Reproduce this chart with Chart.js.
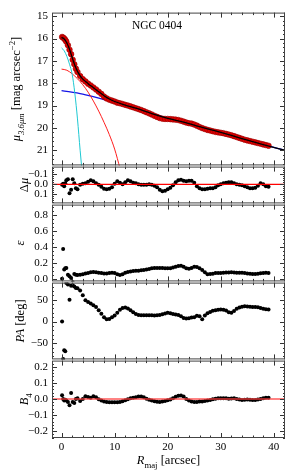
<!DOCTYPE html>
<html>
<head>
<meta charset="utf-8">
<script src="https://cdn.jsdelivr.net/npm/chart.js@4.4.0/dist/chart.umd.min.js"></script>
<style>
  html, body { margin: 0; padding: 0; background: #fff; }
  #wrap { position: relative; width: 293px; height: 471px; overflow: hidden; }
  #wrap canvas { position: absolute; left: 0; }
</style>
</head>
<body>
<div id="wrap"></div>
<script>
// isophote radii [arcsec]
const radius = [
  0.1, 0.3, 0.5, 0.7, 0.9, 1.2, 1.5, 1.8, 2.1, 2.4, 2.7, 3.0,
  3.5, 4.0, 4.5, 5.0, 5.5, 6.0, 6.5, 7.0, 7.5, 8.0, 8.5, 9.0,
  9.5, 10.0, 10.5, 11.0, 11.5, 12.0, 12.5, 13.0, 13.5, 14.0, 14.5, 15.0,
  15.5, 16.0, 16.5, 17.0, 17.5, 18.0, 18.5, 19.0, 19.5, 20.0, 20.5, 21.0,
  21.5, 22.0, 22.5, 23.0, 23.5, 24.0, 24.5, 25.0, 25.5, 26.0, 26.5, 27.0,
  27.5, 28.0, 28.5, 29.0, 29.5, 30.0, 30.5, 31.0, 31.5, 32.0, 32.5, 33.0,
  33.5, 34.0, 34.5, 35.0, 35.5, 36.0, 36.5, 37.0, 37.5, 38.0, 38.5, 39.0
];
const muData = [
  15.93, 15.96, 16.00, 16.06, 16.14, 16.30, 16.50, 16.70, 16.95, 17.15, 17.35, 17.50,
  17.68, 17.82, 17.92, 18.02, 18.10, 18.19, 18.28, 18.38, 18.48, 18.60, 18.68, 18.74,
  18.78, 18.82, 18.87, 18.90, 18.93, 18.97, 19.00, 19.04, 19.08, 19.12, 19.16, 19.20,
  19.25, 19.30, 19.35, 19.40, 19.46, 19.51, 19.56, 19.59, 19.60, 19.60, 19.61, 19.62,
  19.63, 19.65, 19.68, 19.72, 19.76, 19.79, 19.81, 19.85, 19.90, 19.96, 20.01, 20.05,
  20.09, 20.12, 20.15, 20.18, 20.20, 20.22, 20.24, 20.27, 20.30, 20.33, 20.37, 20.41,
  20.45, 20.49, 20.53, 20.56, 20.59, 20.62, 20.65, 20.68, 20.71, 20.74, 20.77, 20.80
];
const dmuData = [
  0.005, -0.005, 0.02, -0.01, -0.04, -0.05, 0.09, 0.055, -0.05, -0.01, 0.04, 0.05,
  0.005, -0.005, -0.01, -0.025, -0.04, -0.03, -0.01, 0.005, 0.025, 0.045, 0.05, 0.045,
  0.03, -0.005, -0.03, -0.015, 0.0, -0.02, -0.04, -0.03, -0.015, -0.01, 0.0, 0.005,
  0.005, 0.005, 0.0, 0.005, 0.015, 0.03, 0.055, 0.07, 0.065, 0.05, 0.035, 0.01,
  -0.02, -0.04, -0.045, -0.035, -0.03, -0.035, -0.035, -0.015, 0.02, 0.04, 0.05, 0.05,
  0.045, 0.04, 0.04, 0.03, 0.01, 0.0, -0.01, -0.015, -0.02, -0.02, -0.01, 0.0,
  0.005, 0.01, 0.02, 0.03, 0.04, 0.04, 0.035, 0.015, -0.01, 0.0, 0.02, 0.025
];
const ellData = [
  0.0, 0.37, 0.115, 0.13, 0.135, 0.05, 0.03, 0.01, -0.045, 0.06, 0.05, 0.045,
  0.05, 0.055, 0.065, 0.07, 0.08, 0.085, 0.08, 0.075, 0.07, 0.065, 0.065, 0.07,
  0.075, 0.07, 0.055, 0.045, 0.055, 0.075, 0.085, 0.09, 0.095, 0.098, 0.1, 0.105,
  0.11, 0.115, 0.12, 0.13, 0.135, 0.135, 0.135, 0.135, 0.132, 0.13, 0.13, 0.14,
  0.15, 0.16, 0.163, 0.15, 0.13, 0.123, 0.135, 0.148, 0.145, 0.13, 0.11, 0.08,
  0.055, 0.058, 0.062, 0.07, 0.07, 0.072, 0.074, 0.076, 0.078, 0.08, 0.078, 0.075,
  0.074, 0.074, 0.07, 0.065, 0.062, 0.06, 0.06, 0.063, 0.068, 0.072, 0.074, 0.072
];
const paData = [
  0, -86, -66, -68, 88, 85, 50, 82, 83, 80, 77, 76,
  71, 60, 49, 45, 41, 37, 33, 26, 18, 10, 5, 6,
  10, 14, 20, 27, 31, 32, 30, 26, 21, 17, 15, 14.5,
  14.5, 14.5, 14.5, 14.5, 14, 14.5, 15, 16.5, 18.5, 20, 19, 17,
  16, 15, 12, 8, 7, 7.5, 9, 10, 13, 12, 5, 14,
  19, 22, 24.5, 26, 27, 27.5, 27, 25, 21, 20, 24, 29,
  32, 34, 35, 34.5, 34, 33.5, 33.5, 32.5, 31, 29.5, 28, 27.5
];
const b4Data = [
  0.023, 0.0, -0.01, -0.005, -0.01, -0.018, -0.039, 0.037, -0.018, -0.025, 0.0, 0.005,
  -0.012, 0.0, 0.017, 0.012, 0.008, 0.017, 0.01, -0.002, -0.01, -0.016, -0.018, -0.02,
  -0.02, -0.02, -0.02, -0.018, -0.014, -0.008, -0.002, 0.004, 0.008, 0.01, 0.015, 0.015,
  0.01, 0.002, -0.005, -0.01, -0.014, -0.017, -0.018, -0.016, -0.012, -0.008, -0.004, 0.005,
  0.014, 0.02, 0.022, 0.015, 0.0, -0.01, -0.015, -0.018, -0.018, -0.016, -0.015, -0.013,
  -0.01, -0.006, -0.002, 0.002, 0.004, 0.005, 0.005, 0.004, 0.002, 0.003, 0.004, 0.0,
  -0.004, -0.006, -0.005, -0.004, -0.005, -0.006, -0.006, -0.004, 0.0, 0.005, 0.008, 0.008
];

// model components
const modelR  = [0, 0.5, 1, 1.5, 2, 2.5, 3, 3.5, 4, 5, 6, 7, 8, 9, 10, 12, 14, 17, 20, 23, 26, 29, 32, 35, 38, 42];
const modelMu = [15.95, 16.02, 16.2, 16.48, 16.85, 17.2, 17.47, 17.67, 17.82, 18.02, 18.2, 18.38, 18.56, 18.71, 18.82, 18.98, 19.12, 19.36, 19.57, 19.74, 19.94, 20.14, 20.34, 20.55, 20.75, 21.0];
const diskR  = [0, 4, 8, 12, 16, 20, 26, 32, 38, 42];
const diskMu = [18.33, 18.49, 18.73, 18.98, 19.28, 19.56, 19.94, 20.34, 20.75, 21.0];
const bulgeR  = [0, 1, 2, 3, 4, 5, 6, 7, 8, 9, 10, 11];
const bulgeMu = [17.37, 17.42, 17.58, 17.8, 18.07, 18.4, 18.8, 19.25, 19.75, 20.3, 20.95, 21.8];
const nucR  = [0, 0.5, 1, 1.5, 2, 2.5, 3, 3.5, 4];
const nucMu = [16.42, 16.55, 16.8, 17.15, 17.6, 18.45, 19.6, 21.0, 22.3];

// tick labels
const xTicks = [0, 10, 20, 30, 40];
const muTicks = [15, 16, 17, 18, 19, 20, 21];
const dmuTicks = [-0.1, 0.0, 0.1];
const ellTicks = [0.0, 0.2, 0.4, 0.6, 0.8];
const paTicks = [-50, 0, 50];
const b4Ticks = [-0.2, -0.1, 0.0, 0.1, 0.2];

const xMin = -1.8, xMax = 42.1;
const plotLeft = 52, plotRight = 285;
const serif = '"Liberation Serif", "Times New Roman", serif';
Chart.defaults.font.family = serif;
Chart.defaults.color = '#000';

const wrap = document.getElementById('wrap');
const pts = (xs, ys) => xs.map((x, i) => ({ x: x, y: ys[i] }));
const minus = s => s.replace('-', '\u2212');

function drawRich(ctx, runs, x, y, size, rotate, align) {
  ctx.save();
  ctx.translate(x, y);
  if (rotate) ctx.rotate(-Math.PI / 2);
  const parts = runs.map(r => {
    const s = (r.sub || r.sup) ? size * 0.7 : size;
    const font = (r.it ? 'italic ' : '') + s + 'px ' + serif;
    ctx.font = font;
    return { t: r.t, font: font, w: ctx.measureText(r.t).width, dy: r.sub ? size * 0.28 : (r.sup ? -size * 0.42 : 0) };
  });
  const total = parts.reduce((a, p) => a + p.w, 0);
  let cx = align === 'left' ? 0 : -total / 2;
  ctx.textBaseline = 'alphabetic';
  ctx.fillStyle = '#000';
  parts.forEach(p => {
    ctx.font = p.font;
    ctx.fillText(p.t, cx, p.dy);
    cx += p.w;
  });
  ctx.restore();
}

function decoPlugin(p, isBottom) {
  return {
    id: 'deco',
    afterDraw(chart) {
      const ctx = chart.ctx;
      const a = chart.chartArea;
      const xs = chart.scales.x, ys = chart.scales.y;
      ctx.save();
      ctx.strokeStyle = '#333';
      ctx.lineWidth = 1;
      ctx.beginPath();
      // x ticks, top and bottom, inward
      for (let k = 0; k <= 21; k++) {
        const v = k * 2;
        const px = Math.round(xs.getPixelForValue(v)) + 0.5;
        const len = v % 10 === 0 ? 5 : 2.5;
        ctx.moveTo(px, a.top); ctx.lineTo(px, a.top + len);
        ctx.moveTo(px, a.bottom); ctx.lineTo(px, a.bottom - len);
      }
      // y ticks, left and right
      const lo = Math.min(p.min, p.max), hi = Math.max(p.min, p.max);
      for (let k = Math.ceil(lo / p.minor - 1e-6); k <= Math.floor(hi / p.minor + 1e-6); k++) {
        const v = k * p.minor;
        const py = Math.round(ys.getPixelForValue(v)) + 0.5;
        ctx.moveTo(a.left, py); ctx.lineTo(a.left + 2, py);
        ctx.moveTo(a.right, py); ctx.lineTo(a.right - 2, py);
      }
      p.ticks.forEach(v => {
        const py = Math.round(ys.getPixelForValue(v)) + 0.5;
        ctx.moveTo(a.left, py); ctx.lineTo(a.left + 5, py);
        ctx.moveTo(a.right, py); ctx.lineTo(a.right - 5, py);
      });
      ctx.stroke();
      ctx.strokeStyle = '#444';
      ctx.strokeRect(a.left + 0.5, a.top + 0.5, a.right - a.left - 1, a.bottom - a.top - 1);
      ctx.restore();

      const midY = (a.top + a.bottom) / 2;
      drawRich(ctx, p.label, p.labelX, midY, 12.5, true, 'center');
      if (p.extra) p.extra(ctx, a);
      if (isBottom) {
        drawRich(ctx, [{ t: 'R', it: true }, { t: 'maj', sub: true }, { t: ' [arcsec]' }],
          (a.left + a.right) / 2, a.bottom + 26, 12.5, false, 'center');
      }
    }
  };
}

function makePanel(p, datasets, isBottom) {
  const padT = 10;
  const padB = isBottom ? 0 : 10;
  const extraB = isBottom ? 471 - p.bottom : 0;
  const canvas = document.createElement('canvas');
  const h = (p.bottom - p.top) + padT + padB + extraB;
  canvas.width = 293;
  canvas.height = h;
  canvas.style.top = (p.top - padT) + 'px';
  wrap.appendChild(canvas);
  new Chart(canvas, {
    type: 'scatter',
    data: { datasets: datasets },
    options: {
      responsive: false,
      animation: false,
      events: [],
      layout: { padding: { left: 0, right: 293 - plotRight, top: padT, bottom: padB }, autoPadding: false },
      plugins: { legend: { display: false }, tooltip: { enabled: false } },
      scales: {
        x: {
          type: 'linear', min: xMin, max: xMax, display: isBottom,
          afterFit: s => { s.height = extraB; },
          afterBuildTicks: s => { s.ticks = xTicks.map(v => ({ value: v })); },
          grid: { display: false, drawTicks: false },
          border: { display: false },
          ticks: { font: { size: 11 }, padding: 3, callback: v => String(v) }
        },
        y: {
          type: 'linear', min: p.min, max: p.max, reverse: !!p.reverse,
          afterFit: s => { s.width = plotLeft; },
          afterBuildTicks: s => { s.ticks = p.ticks.map(v => ({ value: v })); },
          grid: { display: false, drawTicks: false },
          border: { display: false },
          ticks: { font: { size: 11 }, padding: 4, callback: v => minus(p.fmt(v)) }
        }
      }
    },
    plugins: [decoPlugin(p, isBottom)]
  });
}

const dot = (data, r, order) => ({
  data: data, pointRadius: r, pointBackgroundColor: '#000', pointBorderWidth: 0, showLine: false, order: order
});
const curve = (data, color, w, order) => ({
  data: data, borderColor: color, borderWidth: w, pointRadius: 0, showLine: true,
  cubicInterpolationMode: 'monotone', order: order
});
const zeroLine = [{ x: xMin, y: 0 }, { x: xMax, y: 0 }];

// panel 1: surface brightness profile
makePanel({
  top: 12, bottom: 166, min: 14.84, max: 21.68, reverse: true, ticks: muTicks, minor: 0.2,
  fmt: v => v.toFixed(0), labelX: 20,
  label: [{ t: '\u03bc', it: true }, { t: '3.6\u03bcm', it: true, sub: true }, { t: ' [mag arcsec' }, { t: '\u22122', sup: true }, { t: ']' }],
  extra: (ctx, a) => {
    ctx.save();
    ctx.font = '11.5px ' + serif;
    ctx.fillStyle = '#000';
    ctx.textAlign = 'center';
    ctx.fillText('NGC 0404', 157, 27);
    ctx.restore();
  }
}, [
  curve(pts(modelR, modelMu), '#000', 1.3, 0),
  {
    data: pts(radius, muData), pointRadius: 2.8, pointBackgroundColor: 'rgb(225,0,0)',
    pointBorderColor: 'rgb(150,0,0)', pointBorderWidth: 0.6, showLine: false, order: 5
  },
  curve(pts(nucR, nucMu), 'rgb(30,200,210)', 1, 8),
  curve(pts(bulgeR, bulgeMu), 'rgb(255,30,30)', 1, 8),
  curve(pts(diskR, diskMu), 'rgb(20,20,230)', 1.3, 9)
], false);

// panel 2: residuals
makePanel({
  top: 166, bottom: 204, min: -0.178, max: 0.191, reverse: true, ticks: dmuTicks, minor: 0.02,
  fmt: v => v.toFixed(1), labelX: 28,
  label: [{ t: '\u0394' }, { t: '\u03bc', it: true }],
  extra: (ctx, a) => {
    drawRich(ctx, [{ t: '\u0394' }, { t: 'rms', it: true, sub: true }, { t: ' = 0.0287' }], 63, 199, 12, false, 'left');
  }
}, [
  curve(zeroLine, 'rgb(255,0,0)', 1.2, 0),
  dot(pts(radius, dmuData), 2, 5)
], false);

// panel 3: ellipticity
makePanel({
  top: 204, bottom: 282, min: -0.034, max: 0.927, ticks: ellTicks, minor: 0.05,
  fmt: v => v.toFixed(1), labelX: 24,
  label: [{ t: '\u03b5', it: true }]
}, [
  dot(pts(radius, ellData), 2, 5)
], false);

// panel 4: position angle
makePanel({
  top: 282, bottom: 360, min: -86.9, max: 89.2, ticks: paTicks, minor: 10,
  fmt: v => v.toFixed(0), labelX: 24,
  label: [{ t: 'PA', it: true }, { t: ' [deg]' }]
}, [
  dot(pts(radius, paData), 2, 5)
], false);

// panel 5: B4
makePanel({
  top: 360, bottom: 438, min: -0.242, max: 0.238, ticks: b4Ticks, minor: 0.02,
  fmt: v => v.toFixed(1), labelX: 28,
  label: [{ t: 'B', it: true }, { t: '4', sub: true }]
}, [
  curve(zeroLine, 'rgba(255,60,60,0.85)', 1.5, 0),
  dot(pts(radius, b4Data), 2, 5)
], true);
</script>
</body>
</html>
